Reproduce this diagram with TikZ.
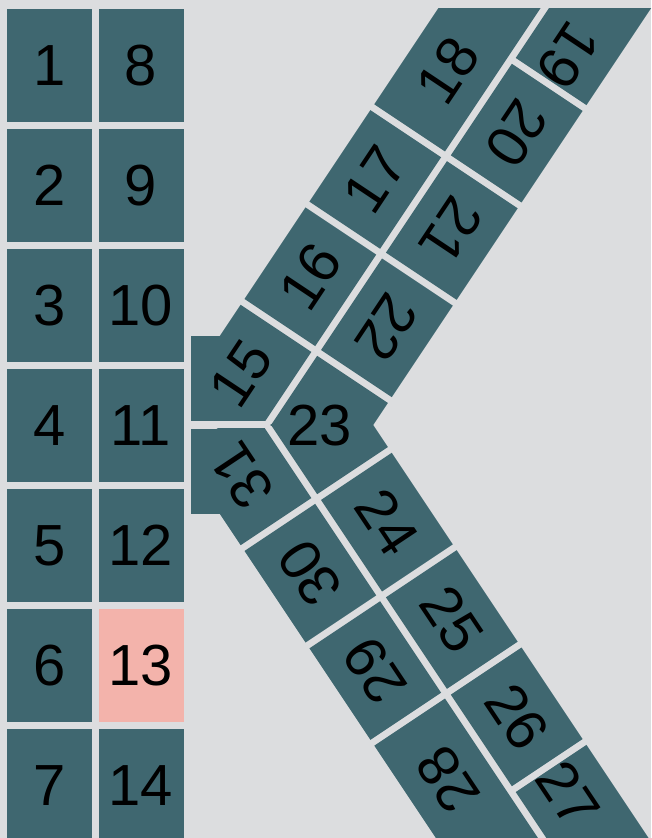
\documentclass[tikz,border=0pt]{standalone}
\usepackage{fontspec}
\setmainfont{Liberation Sans}
\usepackage{tikz}

\definecolor{lotgray}{HTML}{DCDDDF}
\definecolor{baycol}{HTML}{3F6770}
\definecolor{bayhl}{HTML}{F3B3AB}

\begin{document}
\begin{tikzpicture}[
        x=1pt, y=1pt,
        font=\fontsize{58}{60}\selectfont,
        bay/.style={fill=baycol, inner sep=0pt, minimum width=85pt, minimum height=113pt},
        armbay/.style={fill=baycol, inner sep=0pt, minimum width=110pt, minimum height=85pt},
        num/.style={inner sep=0pt},
        armup/.style={shift={(244.5,539)}, rotate=56.31},
        armdown/.style={shift={(244.5,287)}, rotate=-56.31}
    ]
        \clip (0,0) rectangle (651,838);
        \fill[lotgray] (0,0) rectangle (651,838);

        \node[bay] (b1) at (49.5,772.5) {1};
        \node[bay] (b2) at (49.5,652.5) {2};
        \node[bay] (b3) at (49.5,532.5) {3};
        \node[bay] (b4) at (49.5,412.5) {4};
        \node[bay] (b5) at (49.5,292.5) {5};
        \node[bay] (b6) at (49.5,172.5) {6};
        \node[bay] (b7) at (49.5,52.5) {7};
        \node[bay] (b8) at (141,772.5) {8};
        \node[bay] (b9) at (141,652.5) {9};
        \node[bay] (b10) at (141,532.5) {10};
        \node[bay] (b11) at (141,412.5) {11};
        \node[bay] (b12) at (141,292.5) {12};
        \node[bay, fill=bayhl] (b13) at (141,172.5) {13};
        \node[bay] (b14) at (141,52.5) {14};

        \begin{scope}
            \clip (191,417) rectangle (651,838);
            \fill[baycol] (191,417) rectangle (265,502);
            \fill[baycol, armup] (-117,0) rectangle (-7,-85);
        \end{scope}
        \begin{scope}
            \clip (191,0) rectangle (651,409);
            \fill[baycol] (191,324) rectangle (265,409);
            \fill[baycol, armdown] (-117,0) rectangle (-7,85);
        \end{scope}
        \begin{scope}
            \clip (0,412.5) rectangle (651,838);
            \fill[baycol, armup] (-117,-92) rectangle (-7,-177);
        \end{scope}
        \begin{scope}
            \clip (0,0) rectangle (651,413.5);
            \fill[baycol, armdown] (-117,92) rectangle (-7,177);
        \end{scope}
        \node[num, rotate=56.31] (b15) at (241.5,464) {15};
        \node[num] (b23) at (320,412) {23};
        \node[num, rotate=123.69] (b31) at (241.5,362) {31};

        \begin{scope}
            \clip (0,0) rectangle (651,829);
            \begin{scope}[armup]
                \node[armbay, rotate=56.31] (b16) at (55,-42.5) {16};
                \node[armbay, rotate=56.31] (b17) at (172,-42.5) {17};
                \fill[baycol] (234,0) rectangle (420,-85);
                \node[num, rotate=56.31] (b18) at (303,-42.5) {18};
                \node[armbay, rotate=236.31] (b22) at (55,-134.5) {22};
                \node[armbay, rotate=236.31] (b21) at (172,-134.5) {21};
                \node[armbay, rotate=236.31] (b20) at (289,-134.5) {20};
                \fill[baycol] (351,-92) rectangle (520,-177);
                \node[num, rotate=236.31] (b19) at (382,-134.5) {19};
            \end{scope}
            \begin{scope}[armdown]
                \node[armbay, rotate=-56.31] (b24) at (55,134.5) {24};
                \node[armbay, rotate=-56.31] (b25) at (172,134.5) {25};
                \node[armbay, rotate=-56.31] (b26) at (289,134.5) {26};
                \fill[baycol] (351,92) rectangle (520,177);
                \node[num, rotate=-56.31] (b27) at (382,134.5) {27};
                \node[armbay, rotate=123.69] (b30) at (55,42.5) {30};
                \node[armbay, rotate=123.69] (b29) at (172,42.5) {29};
                \fill[baycol] (234,0) rectangle (420,85);
                \node[num, rotate=123.69] (b28) at (303,42.5) {28};
            \end{scope}
        \end{scope}
    \end{tikzpicture}
\end{document}
